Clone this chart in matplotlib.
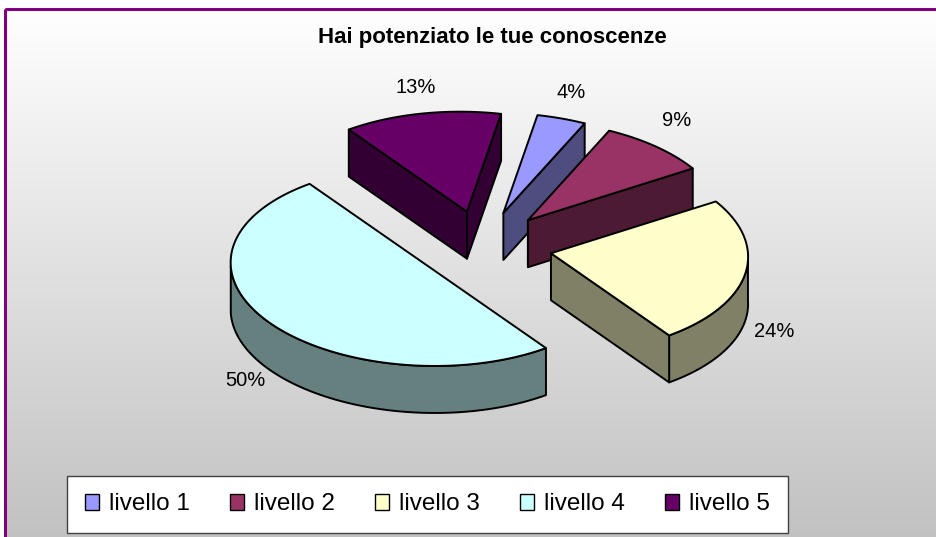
import numpy as np
import matplotlib
matplotlib.use("Agg")
import matplotlib.pyplot as plt
from matplotlib.patches import Polygon, Patch, Rectangle
from matplotlib.colors import to_rgb

# dati del grafico
categorie = ["livello 1", "livello 2", "livello 3", "livello 4", "livello 5"]
percentuali = [4, 9, 24, 50, 13]
colori = ["#9999FF", "#993366", "#FFFFCC", "#CCFFFF", "#660066"]
titolo = "Hai potenziato le tue conoscenze"

W, H = 937, 537
fig = plt.figure(figsize=(W / 100, H / 100), dpi=100)
ax = fig.add_axes([0, 0, 1, 1])
ax.set_xlim(0, W)
ax.set_ylim(H, 0)
ax.axis("off")

# sfondo sfumato e bordo viola
grad = np.linspace(255, 193, 256)[:, None] / 255.0
grad = np.repeat(grad, 2, axis=1)
ax.imshow(np.dstack([grad, grad, grad]), extent=(5, W + 5, H + 5, 8),
          aspect="auto", zorder=0, interpolation="bilinear")
ax.add_patch(Rectangle((5.5, 8.5), W + 20, H + 20, fill=False,
                       edgecolor="#800080", linewidth=2.2, zorder=1))

# geometria della torta 3D
cx, cy = 483, 246
a, b = 197, 100
spessore = 47
esplodi = 0.35
start = 12.0
inclina = 0.07   # leggera inclinazione della vista

def punto(xc, yc, t):
    r = np.radians(t)
    x = xc + a * np.sin(r)
    y = yc - b * np.cos(r)
    return x + inclina * (y - cy), y

def scurisci(c, f=0.5):
    return tuple(v * f for v in to_rgb(c))

tot = sum(percentuali)
fette = []
ang = start
for val, col, nome in zip(percentuali, colori, categorie):
    ampiezza = 360.0 * val / tot
    t0, t1 = ang, ang + ampiezza
    mid = (t0 + t1) / 2
    rm = np.radians(mid)
    xc = cx + esplodi * a * np.sin(rm)
    yc = cy - esplodi * b * np.cos(rm)
    fette.append((t0, t1, mid, xc, yc, col, val))
    ang = t1

kw = dict(edgecolor="black", linewidth=1.4, joinstyle="round")
# dal fondo verso il davanti
for t0, t1, mid, xc, yc, col, val in sorted(fette, key=lambda f: np.cos(np.radians(f[2])), reverse=True):
    lato = scurisci(col)
    ox = xc + inclina * (yc - cy)
    # parete laterale curva (solo la parte rivolta verso chi guarda)
    lo, hi = max(t0, 90), min(t1, 270)
    if hi > lo:
        tt = np.linspace(lo, hi, 80)
        xs, ys = punto(xc, yc, tt)
        pts = np.concatenate([np.column_stack([xs, ys]),
                              np.column_stack([xs, ys + spessore])[::-1]])
        ax.add_patch(Polygon(pts, closed=True, facecolor=lato, zorder=3, **kw))
    # facce di taglio radiali
    for t, visibile in ((t0, np.sin(np.radians(t0)) < 0), (t1, np.sin(np.radians(t1)) > 0)):
        if visibile:
            px, py = punto(xc, yc, t)
            pts = [(ox, yc), (px, py), (px, py + spessore), (ox, yc + spessore)]
            ax.add_patch(Polygon(pts, closed=True, facecolor=lato, zorder=3, **kw))
    # faccia superiore
    tt = np.linspace(t0, t1, 120)
    xs, ys = punto(xc, yc, tt)
    pts = np.vstack([[ox, yc], np.column_stack([xs, ys])])
    ax.add_patch(Polygon(pts, closed=True, facecolor=col, zorder=3, **kw))

    # etichetta percentuale
    rm = np.radians(mid)
    lx, ly = punto(xc, yc, mid)
    lx += 30 * np.sin(rm)
    ly += -26 if np.cos(rm) > 0.3 else spessore + 10
    ax.text(lx, ly, f"{val}%", ha="center", va="center", fontsize=14.5,
            family=["Liberation Sans", "DejaVu Sans"], zorder=5)

fig.text(492 / W, 1 - 38 / H, titolo, ha="center", va="center", fontsize=16,
         fontweight="bold", family=["Liberation Sans", "DejaVu Sans"])

handles = [Patch(facecolor=c, edgecolor="black", linewidth=1.0) for c in colori]
leg = fig.legend(handles, categorie, ncol=5, loc="center",
                 bbox_to_anchor=(427.5 / W, 1 - 504.5 / H),
                 prop={"family": ["Liberation Sans", "DejaVu Sans"], "size": 17.5},
                 frameon=True, fancybox=False, handlelength=0.58, handleheight=0.66,
                 handletextpad=0.41, columnspacing=1.65, borderpad=0.74,
                 borderaxespad=0)
leg.get_frame().set_edgecolor("#404040")
leg.get_frame().set_linewidth(1.0)
leg.get_frame().set_facecolor("white")
leg.get_frame().set_alpha(1)

fig.savefig("out.png", dpi=100, facecolor="white")
